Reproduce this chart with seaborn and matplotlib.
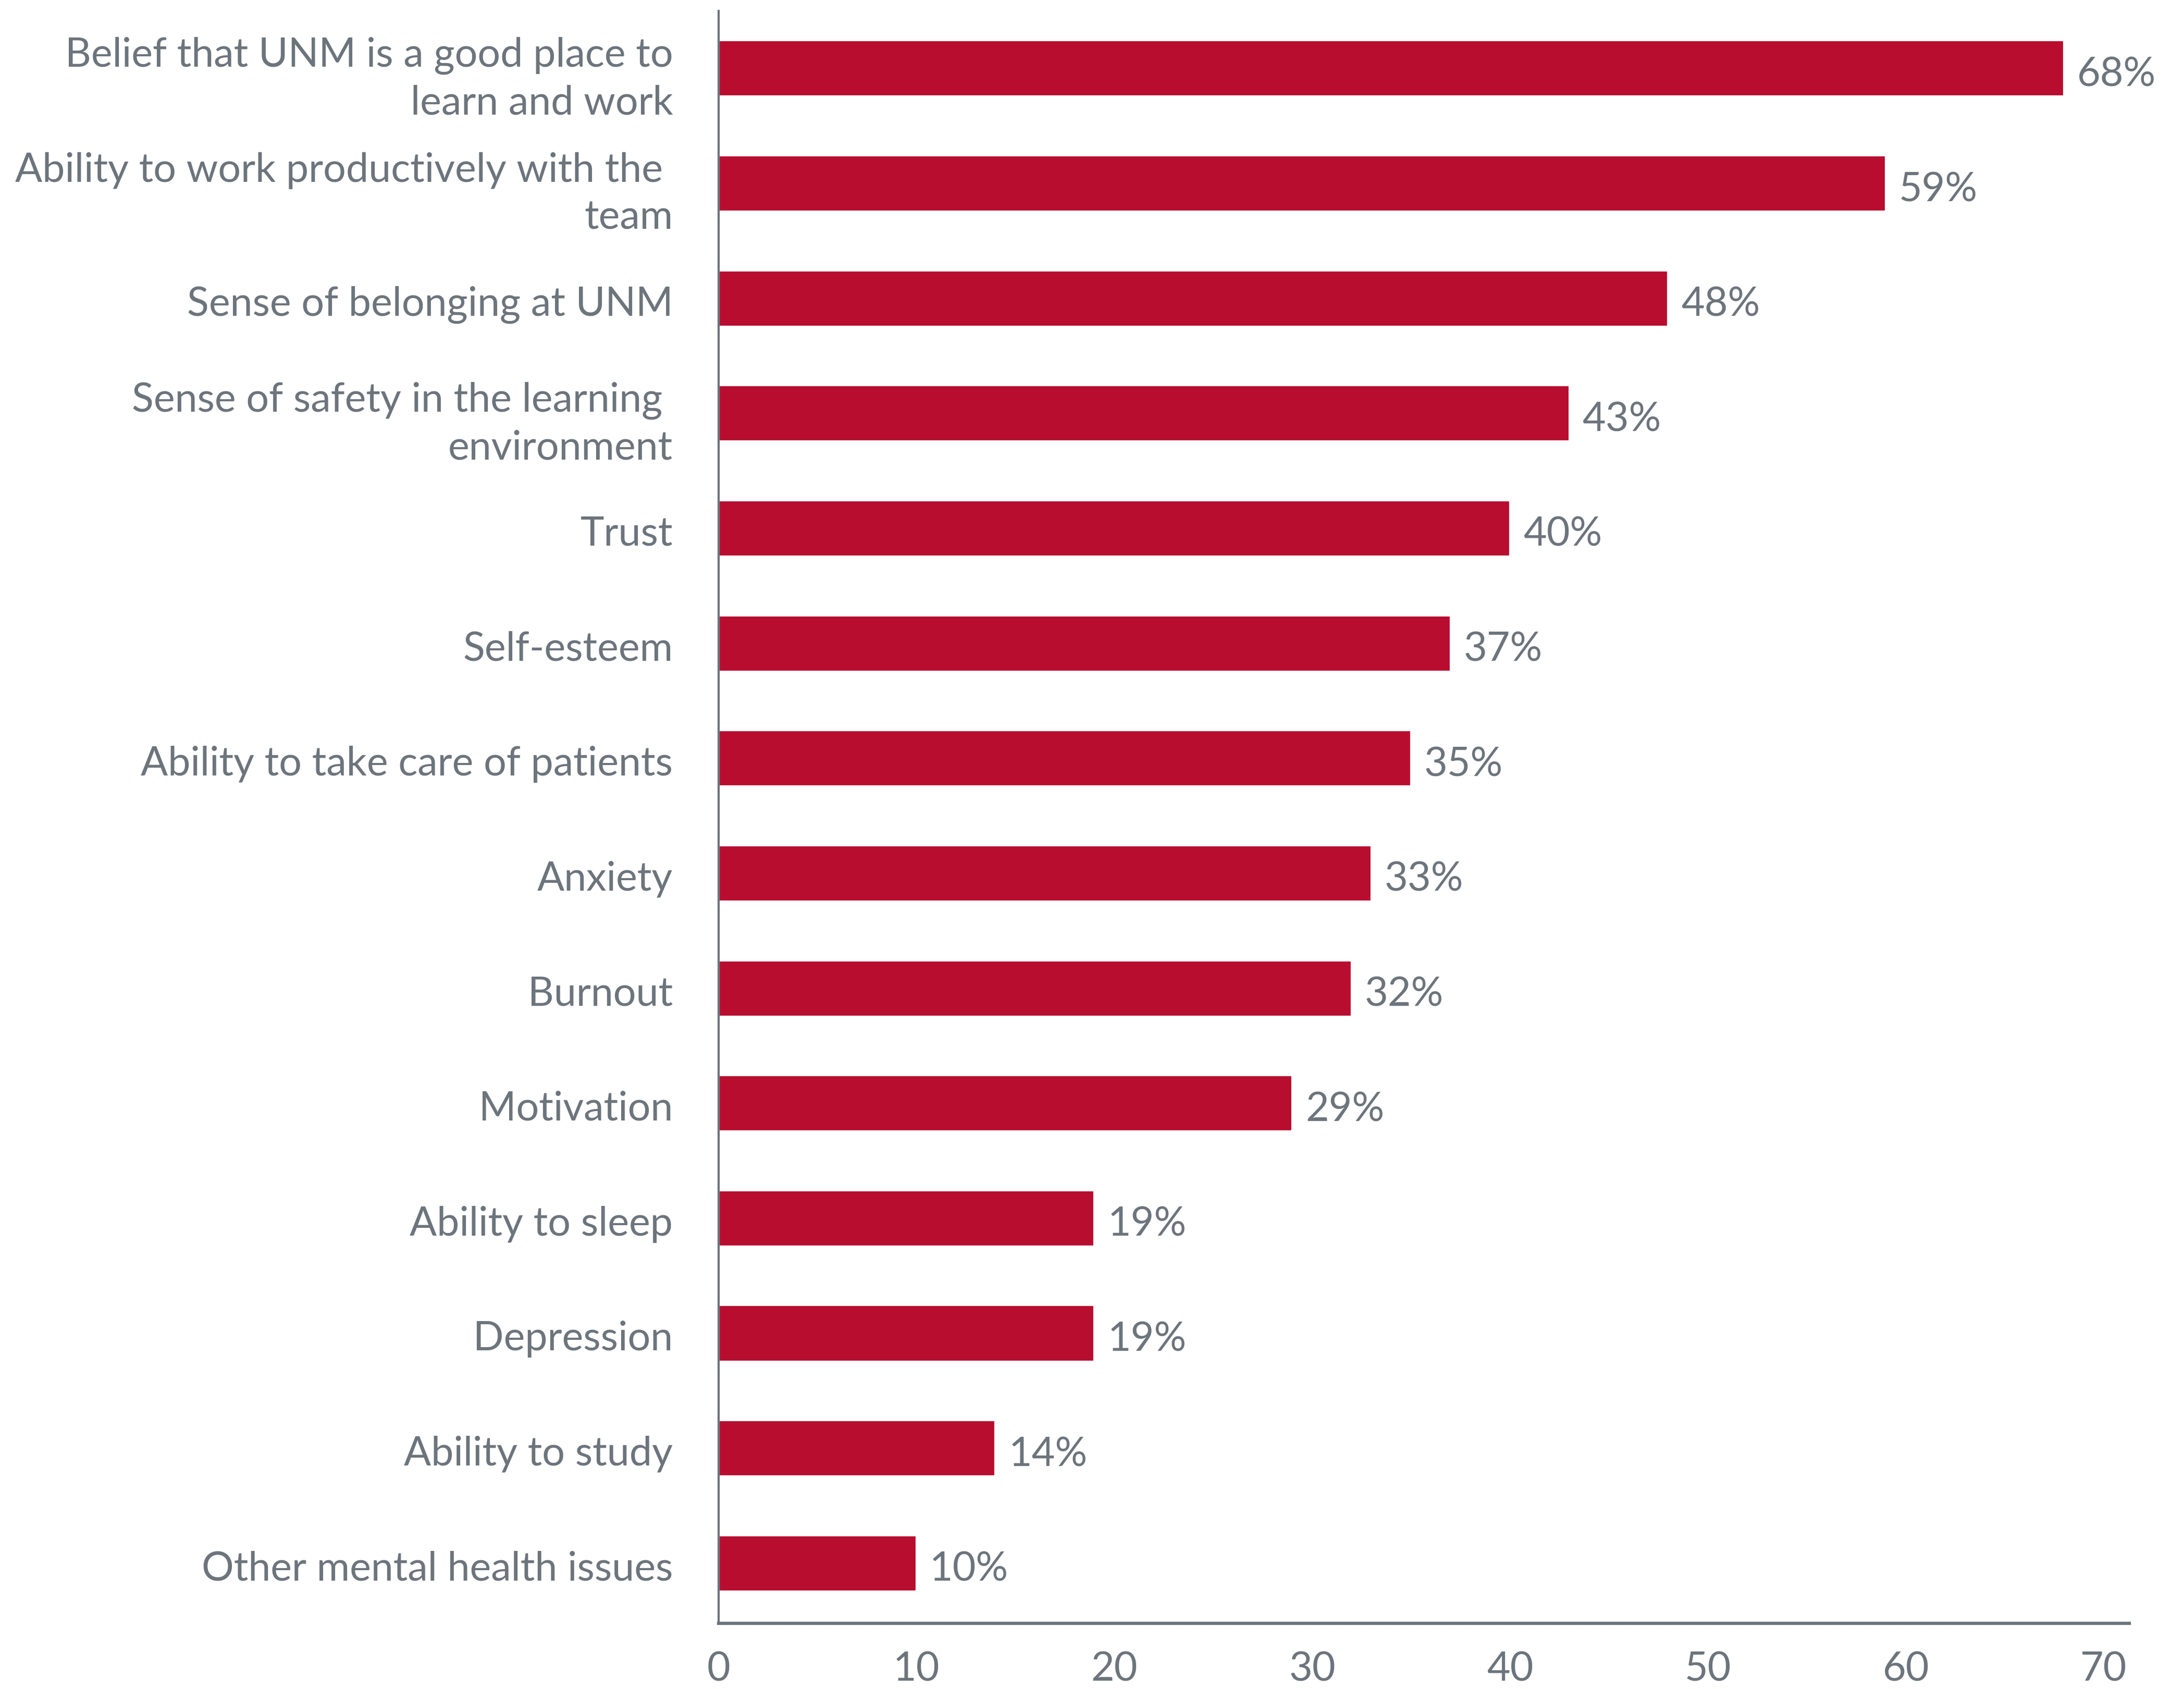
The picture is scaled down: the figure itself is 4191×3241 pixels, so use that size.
import matplotlib
matplotlib.use("Agg")
import matplotlib.pyplot as plt
import matplotlib.transforms as mtransforms
import seaborn as sns
import pandas as pd

# Data
labels = [
    "Belief that UNM is a good place to\nlearn and work",
    "Ability to work productively with the \nteam",
    "Sense of belonging at UNM",
    "Sense of safety in the learning \nenvironment",
    "Trust",
    "Self-esteem",
    "Ability to take care of patients",
    "Anxiety",
    "Burnout",
    "Motivation",
    "Ability to sleep",
    "Depression",
    "Ability to study",
    "Other mental health issues",
]
values = [68, 59, 48, 43, 40, 37, 35, 33, 32, 29, 19, 19, 14, 10]
xticks = [0, 10, 20, 30, 40, 50, 60, 70]

df = pd.DataFrame({"label": labels, "value": values})

sns.set_style("white")
plt.rcParams["font.family"] = ["Lato", "DejaVu Sans"]

gray = "#6C747C"
red = "#B80D2F"
fs = 18.5

fig = plt.figure(figsize=(4191 / 300, 3241 / 300), dpi=300)
ax = fig.add_axes([0.329, 0.039, 0.646, 0.9545])

sns.barplot(data=df, x="value", y="label", orient="h", color=red,
            width=0.49, saturation=1, ax=ax)

for c in ax.containers:
    texts = ax.bar_label(c, labels=[f"{v}%" for v in values], padding=6,
                         fontsize=fs, color=gray)
    for t in texts:
        t.set_va("center")
        t.xyann = (6, -3)

ax.set_xlim(0, 71.3)
ax.set_ylim(13.52, -0.5)
ax.set_xticks(xticks)
ax.set_xlabel("")
ax.set_ylabel("")
ax.tick_params(axis="y", length=0, pad=21, labelsize=fs, labelcolor=gray)
ax.tick_params(axis="x", length=0, pad=13, labelsize=fs, labelcolor=gray)

# small downward nudge of category labels
shift = mtransforms.ScaledTranslation(0, -1 / 72, fig.dpi_scale_trans)
for lab in ax.get_yticklabels():
    lab.set_horizontalalignment("right")
    lab.set_multialignment("right")
    lab.set_linespacing(1.33)
    lab.set_transform(lab.get_transform() + shift)

sns.despine(ax=ax, top=True, right=True)
ax.spines["left"].set_color(gray)
ax.spines["left"].set_linewidth(1.0)
ax.spines["bottom"].set_color(gray)
ax.spines["bottom"].set_linewidth(1.5)

fig.savefig("out.png", dpi=300, facecolor="white")
